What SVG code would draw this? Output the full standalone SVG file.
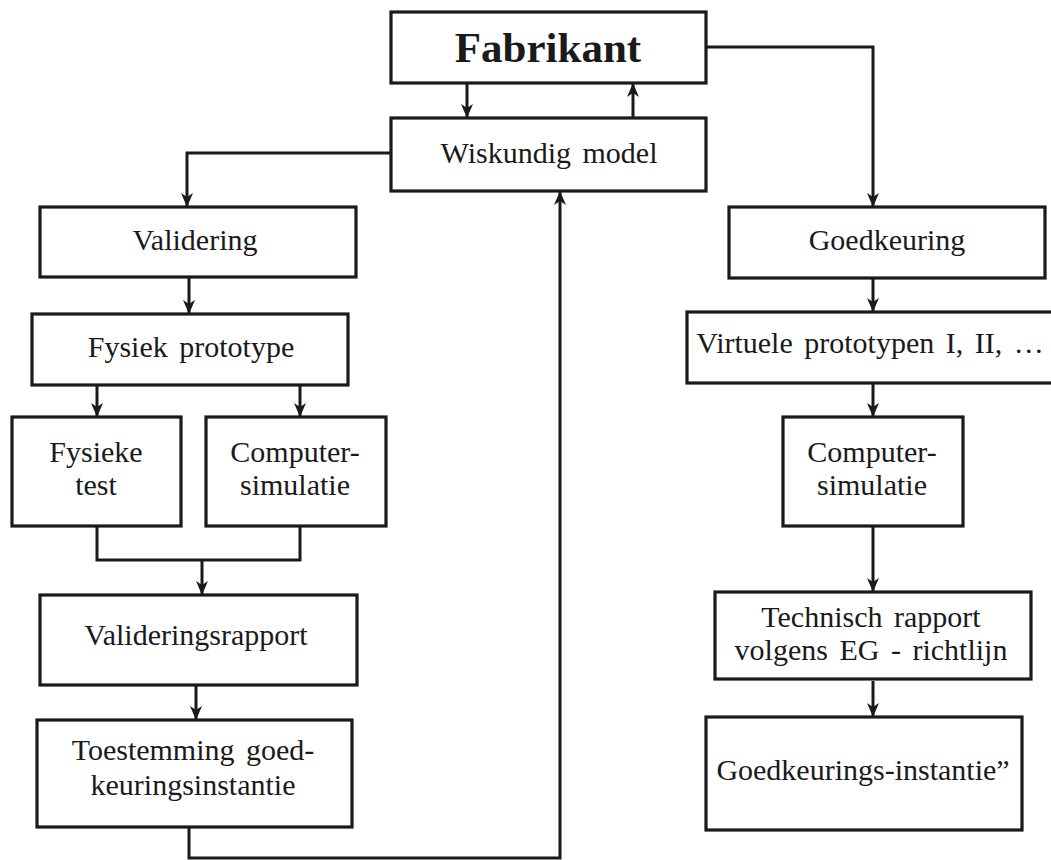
<svg xmlns="http://www.w3.org/2000/svg" width="1051" height="860" viewBox="0 0 1051 860">
<defs>
<style>
.box{fill:#fff;stroke:#1a1a1a;stroke-width:3.2}
.t{font-family:"Liberation Serif","DejaVu Serif","Times New Roman",serif;font-size:30px;fill:#1a1a1a;text-anchor:middle;word-spacing:4px}
.c{fill:none;stroke:#1a1a1a;stroke-width:3}
</style>
<marker id="ah" markerUnits="userSpaceOnUse" markerWidth="14" markerHeight="14" viewBox="0 0 14 14" refX="13" refY="7" orient="auto">
<path d="M0 1 L14 7 L0 13 L4 7 Z" fill="#1a1a1a"/>
</marker>
</defs>
<rect width="1051" height="860" fill="#fff"/>
<g id="connectors">
<path class="c" d="M467 83 V117" marker-end="url(#ah)"/>
<path class="c" d="M633 118 V84" marker-end="url(#ah)"/>
<path class="c" d="M706 47 H873 V206" marker-end="url(#ah)"/>
<path class="c" d="M391 153 H187 V206" marker-end="url(#ah)"/>
<path class="c" d="M189 277 V313" marker-end="url(#ah)"/>
<path class="c" d="M97 385 V416" marker-end="url(#ah)"/>
<path class="c" d="M300 385 V416" marker-end="url(#ah)"/>
<path class="c" d="M97 526 V560 H300 V526"/>
<path class="c" d="M202 560 V594" marker-end="url(#ah)"/>
<path class="c" d="M196 685 V719" marker-end="url(#ah)"/>
<path class="c" d="M189 827 V858 H560 V192" marker-end="url(#ah)"/>
<path class="c" d="M873 278 V311" marker-end="url(#ah)"/>
<path class="c" d="M873 383 V416" marker-end="url(#ah)"/>
<path class="c" d="M873 526 V591" marker-end="url(#ah)"/>
<path class="c" d="M873 681 V716" marker-end="url(#ah)"/>
</g>
<g id="fabrikant"><rect class="box" x="391" y="12" width="315" height="71"/><text class="t" x="548" y="62" style="font-size:43px;font-weight:bold">Fabrikant</text></g>
<g id="wiskundig"><rect class="box" x="391" y="118" width="315" height="73"/><text class="t" x="549" y="163">Wiskundig model</text></g>
<g id="validering"><rect class="box" x="40" y="207" width="316" height="70"/><text class="t" x="195" y="250">Validering</text></g>
<g id="fysiek-prototype"><rect class="box" x="32" y="314" width="316" height="71"/><text class="t" x="191" y="357">Fysiek prototype</text></g>
<g id="fysieke-test"><rect class="box" x="12" y="417" width="169" height="109"/><text class="t" x="96" y="462">Fysieke</text><text class="t" x="96" y="495">test</text></g>
<g id="computersimulatie-l"><rect class="box" x="206" y="417" width="180" height="109"/><text class="t" x="295" y="462">Computer-</text><text class="t" x="295" y="495">simulatie</text></g>
<g id="valideringsrapport"><rect class="box" x="40" y="595" width="317" height="90"/><text class="t" x="196" y="645">Valideringsrapport</text></g>
<g id="toestemming"><rect class="box" x="37" y="720" width="315" height="107"/><text class="t" x="193" y="760">Toestemming goed-</text><text class="t" x="193" y="795">keuringsinstantie</text></g>
<g id="goedkeuring"><rect class="box" x="729" y="207" width="316" height="71"/><text class="t" x="887" y="250">Goedkeuring</text></g>
<g id="virtuele"><rect class="box" x="687" y="312" width="370" height="71"/><text class="t" x="870" y="353">Virtuele prototypen I, II, …</text></g>
<g id="computersimulatie-r"><rect class="box" x="783" y="417" width="180" height="109"/><text class="t" x="872" y="462">Computer-</text><text class="t" x="872" y="495">simulatie</text></g>
<g id="technisch"><rect class="box" x="715" y="592" width="316" height="87"/><text class="t" x="871" y="627">Technisch rapport</text><text class="t" x="871" y="660">volgens EG - richtlijn</text></g>
<g id="goedkeurings-instantie"><rect class="box" x="706" y="717" width="316" height="113"/><text class="t" x="863" y="780" style="word-spacing:0">Goedkeurings-instantie”</text></g>
</svg>
